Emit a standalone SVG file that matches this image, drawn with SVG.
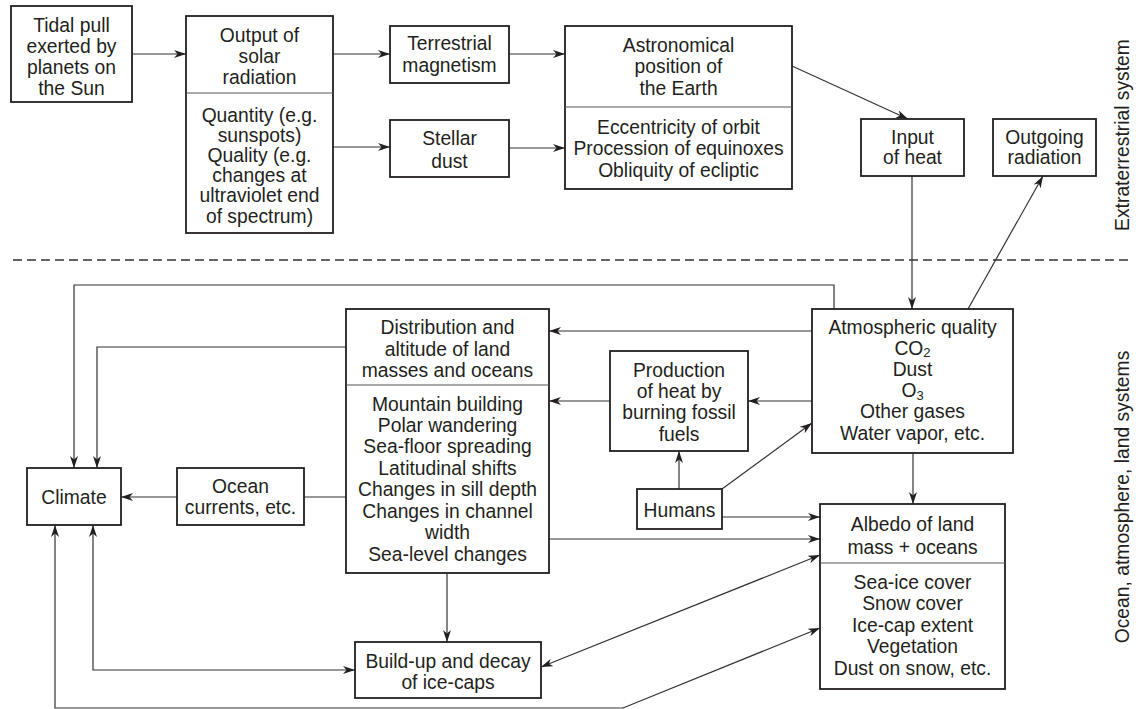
<svg xmlns="http://www.w3.org/2000/svg" width="1136" height="709" viewBox="0 0 1136 709">
<style>
.box{fill:#fff;stroke:#231f20;stroke-width:1.8}
.div{stroke:#555;stroke-width:1.2}
.ln{fill:none;stroke:#333;stroke-width:1.2}
.a{marker-end:url(#ah)}
.b{marker-start:url(#ah);marker-end:url(#ah)}
text{font-family:"Liberation Sans",Arial,sans-serif;font-size:19.3px;fill:#231f20;text-anchor:middle}
.sub{font-size:13px}
</style>
<defs>
<marker id="ah" viewBox="0 0 12 8" refX="12" refY="4" markerWidth="12" markerHeight="8" markerUnits="userSpaceOnUse" orient="auto-start-reverse">
<path d="M0,0 L12,4 L0,8 L3.5,4 z" fill="#231f20"/>
</marker>
</defs>
<rect width="1136" height="709" fill="#fff"/>

<g id="connectors">
<line class="ln a" x1="132" y1="54" x2="186" y2="54"/>
<line class="ln a" x1="333" y1="54" x2="390" y2="54"/>
<line class="ln a" x1="333" y1="147" x2="390" y2="147"/>
<line class="ln a" x1="509" y1="54" x2="565" y2="54"/>
<line class="ln a" x1="509" y1="148" x2="565" y2="148"/>
<line class="ln a" x1="792" y1="66" x2="908" y2="119"/>
<line class="ln a" x1="912" y1="176" x2="912" y2="309"/>
<line class="ln a" x1="968" y1="309" x2="1043" y2="176"/>
<line class="ln a" x1="812" y1="331" x2="549" y2="331"/>
<line class="ln a" x1="812" y1="401" x2="748" y2="401"/>
<line class="ln a" x1="610" y1="401" x2="549" y2="401"/>
<line class="ln a" x1="679" y1="489" x2="679" y2="451"/>
<line class="ln a" x1="722" y1="489" x2="812" y2="423"/>
<line class="ln a" x1="722" y1="517" x2="820" y2="517"/>
<line class="ln a" x1="549" y1="539" x2="820" y2="539"/>
<line class="ln b" x1="541" y1="667" x2="820" y2="555"/>
<polyline class="ln b" points="55,525 55,708 623,708 820,628"/>
<polyline class="ln a" points="834,309 834,285 74,285 74,468"/>
<polyline class="ln a" points="346,347 97,347 97,468"/>
<line class="ln" x1="346" y1="497" x2="304" y2="497"/>
<line class="ln a" x1="177" y1="497" x2="121" y2="497"/>
<polyline class="ln b" points="93,525 93,670 355,670"/>
<line class="ln a" x1="447" y1="573" x2="447" y2="642"/>
<line class="ln a" x1="913" y1="453" x2="913" y2="504"/>
</g>

<line x1="13" y1="260" x2="1132" y2="260" stroke="#333" stroke-width="1.5" stroke-dasharray="9 5"/>

<g id="tidal">
<rect class="box" x="11" y="6" width="121" height="96"/>
<text x="71.5" y="31.5">Tidal pull</text>
<text x="71.5" y="52.5">exerted by</text>
<text x="71.5" y="73.5">planets on</text>
<text x="71.5" y="94.5">the Sun</text>
</g>

<g id="solar">
<rect class="box" x="186" y="16" width="147" height="217"/>
<line class="div" x1="186" y1="93" x2="333" y2="93"/>
<text x="259.5" y="41.5">Output of</text>
<text x="259.5" y="62.5">solar</text>
<text x="259.5" y="83.5">radiation</text>
<text x="259.5" y="121.5">Quantity (e.g.</text>
<text x="259.5" y="141.5">sunspots)</text>
<text x="259.5" y="161.5">Quality (e.g.</text>
<text x="259.5" y="181.5">changes at</text>
<text x="259.5" y="202">ultraviolet end</text>
<text x="259.5" y="223">of spectrum)</text>
</g>

<g id="terrestrial">
<rect class="box" x="390" y="26" width="119" height="57"/>
<text x="449.5" y="49.5">Terrestrial</text>
<text x="449.5" y="71.5">magnetism</text>
</g>

<g id="stellar">
<rect class="box" x="390" y="120" width="119" height="57"/>
<text x="449.5" y="144.5">Stellar</text>
<text x="449.5" y="167.5">dust</text>
</g>

<g id="astronomical">
<rect class="box" x="565" y="26" width="227" height="163"/>
<line class="div" x1="565" y1="107" x2="792" y2="107"/>
<text x="678.5" y="51.5">Astronomical</text>
<text x="678.5" y="72.5">position of</text>
<text x="678.5" y="94.5">the Earth</text>
<text x="678.5" y="133.5">Eccentricity of orbit</text>
<text x="678.5" y="154.5">Procession of equinoxes</text>
<text x="678.5" y="176.5">Obliquity of ecliptic</text>
</g>

<g id="input">
<rect class="box" x="861" y="119" width="103" height="57"/>
<text x="912.5" y="143.5">Input</text>
<text x="912.5" y="163.5">of heat</text>
</g>

<g id="outgoing">
<rect class="box" x="993" y="119" width="103" height="57"/>
<text x="1044.5" y="143.5">Outgoing</text>
<text x="1044.5" y="163.5">radiation</text>
</g>

<g id="atmospheric">
<rect class="box" x="812" y="309" width="201" height="144"/>
<text x="912.5" y="333.5">Atmospheric quality</text>
<text x="912.5" y="354.7">CO<tspan class="sub" dy="2.5">2</tspan></text>
<text x="912.5" y="375.9">Dust</text>
<text x="912.5" y="397.1">O<tspan class="sub" dy="2.5">3</tspan></text>
<text x="912.5" y="418.3">Other gases</text>
<text x="912.5" y="439.5">Water vapor, etc.</text>
</g>

<g id="albedo">
<rect class="box" x="820" y="504" width="185" height="185"/>
<line class="div" x1="820" y1="563" x2="1005" y2="563"/>
<text x="912.5" y="530.5">Albedo of land</text>
<text x="912.5" y="553.5">mass + oceans</text>
<text x="912.5" y="588.5">Sea-ice cover</text>
<text x="912.5" y="610">Snow cover</text>
<text x="912.5" y="631.5">Ice-cap extent</text>
<text x="912.5" y="653">Vegetation</text>
<text x="912.5" y="674.5">Dust on snow, etc.</text>
</g>

<g id="distribution">
<rect class="box" x="346" y="309" width="203" height="264"/>
<line class="div" x1="346" y1="385" x2="549" y2="385"/>
<text x="447.5" y="333.5">Distribution and</text>
<text x="447.5" y="355.5">altitude of land</text>
<text x="447.5" y="376.5">masses and oceans</text>
<text x="447.5" y="410.5">Mountain building</text>
<text x="447.5" y="431.9">Polar wandering</text>
<text x="447.5" y="453.4">Sea-floor spreading</text>
<text x="447.5" y="474.8">Latitudinal shifts</text>
<text x="447.5" y="496.2">Changes in sill depth</text>
<text x="447.5" y="517.6">Changes in channel</text>
<text x="447.5" y="539.1">width</text>
<text x="447.5" y="560.5">Sea-level changes</text>
</g>

<g id="production">
<rect class="box" x="610" y="351" width="138" height="100"/>
<text x="679" y="376.5">Production</text>
<text x="679" y="397.5">of heat by</text>
<text x="679" y="418.5">burning fossil</text>
<text x="679" y="440.5">fuels</text>
</g>

<g id="humans">
<rect class="box" x="637" y="489" width="85" height="40"/>
<text x="679.5" y="516.5">Humans</text>
</g>

<g id="climate">
<rect class="box" x="27" y="468" width="94" height="57"/>
<text x="74" y="503.5">Climate</text>
</g>

<g id="ocean">
<rect class="box" x="177" y="468" width="127" height="57"/>
<text x="240.5" y="492.5">Ocean</text>
<text x="240.5" y="513.5">currents, etc.</text>
</g>

<g id="icecaps">
<rect class="box" x="355" y="642" width="186" height="56"/>
<text x="448" y="667.5">Build-up and decay</text>
<text x="448" y="688.5">of ice-caps</text>
</g>

<g id="labels">
<text transform="translate(1129,135) rotate(-90)">Extraterrestrial system</text>
<text transform="translate(1129,497) rotate(-90)">Ocean, atmosphere, land systems</text>
</g>
</svg>
